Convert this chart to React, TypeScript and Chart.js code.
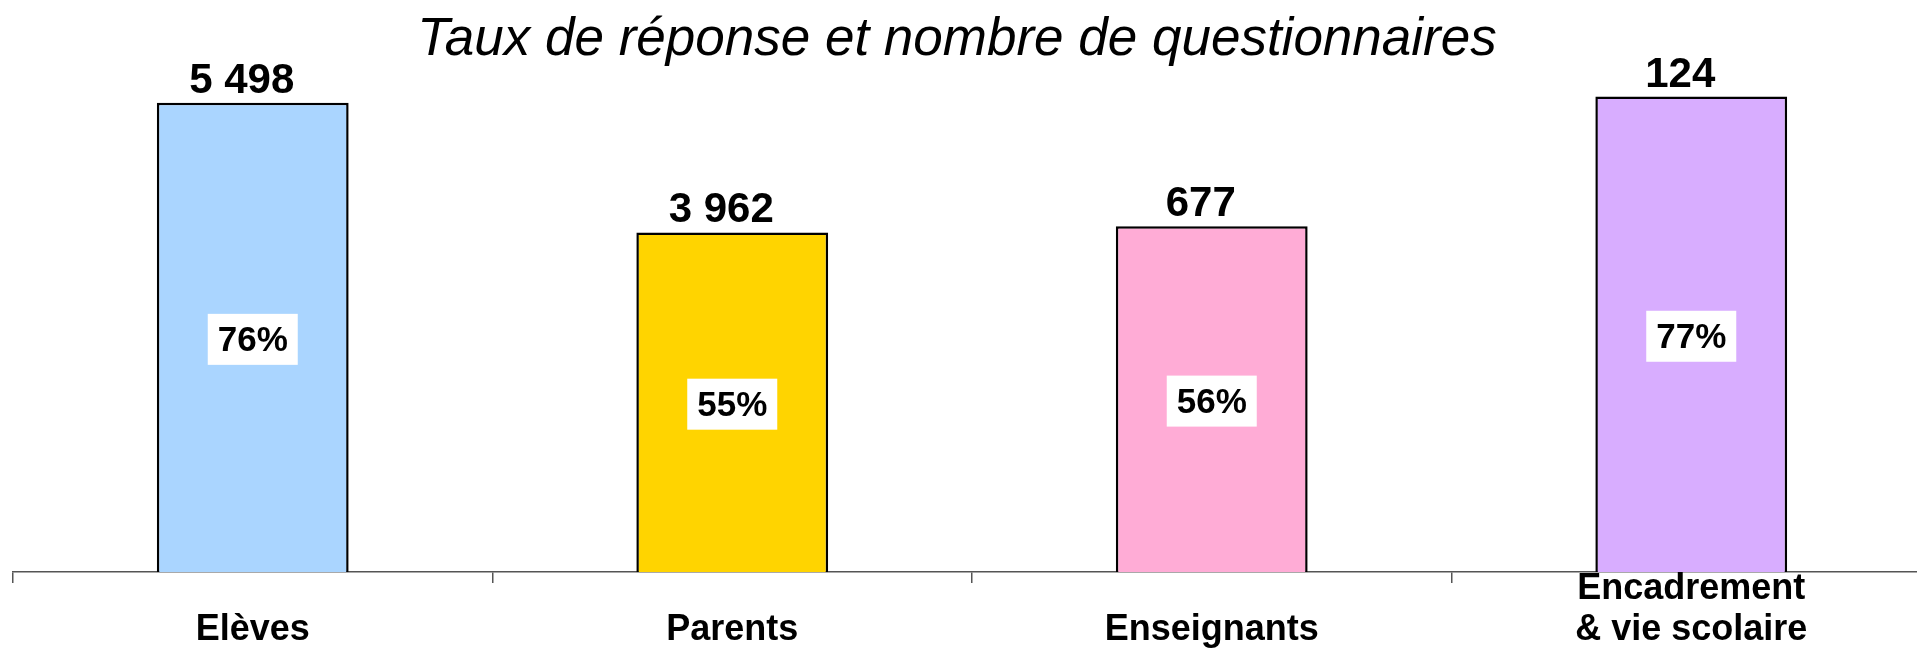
import React, { useEffect, useRef } from "react";
import { Chart, registerables } from "chart.js";

Chart.register(...registerables);

const categoryLines: string[][] = [
  ["", "Elèves"],
  ["", "Parents"],
  ["", "Enseignants"],
  ["Encadrement", "& vie scolaire"],
];
const responseRates = [76, 55, 56, 77];
const questionnaireCounts = [5498, 3962, 677, 124];
const barColors = ["#AAD5FF", "#FFD400", "#FFACD6", "#D8ADFF"];
const chartTitle = "Taux de réponse et nombre de questionnaires";

const FONT = '"Liberation Sans", Arial, Helvetica, sans-serif';

const fmtCount = (n: number) => String(n).replace(/\B(?=(\d{3})+(?!\d))/g, " ");

const overlayPlugin = {
  id: "overlay",
  afterDatasetsDraw(chart: any) {
    const ctx = chart.ctx;
    const meta = chart.getDatasetMeta(0);
    ctx.save();
    // title
    ctx.fillStyle = "#000";
    ctx.font = `italic 53px ${FONT}`;
    ctx.textAlign = "center";
    ctx.textBaseline = "alphabetic";
    ctx.fillText(chartTitle, 957, 55);

    meta.data.forEach((bar: any, i: number) => {
      const { x, y, base } = bar.getProps(["x", "y", "base"], true);
      // count above
      ctx.font = `bold 42px ${FONT}`;
      ctx.fillStyle = "#000";
      ctx.textAlign = "center";
      ctx.textBaseline = "alphabetic";
      ctx.fillText(fmtCount(questionnaireCounts[i]), x - 11, y - 10);
      // percentage box
      const cy = (y + base) / 2 + 2;
      const bw = 90;
      const bh = 51;
      ctx.fillStyle = "#fff";
      ctx.fillRect(x - bw / 2, cy - bh / 2, bw, bh);
      ctx.fillStyle = "#000";
      ctx.font = `bold 35px ${FONT}`;
      ctx.textBaseline = "middle";
      ctx.fillText(`${responseRates[i]}%`, x, cy + 2);
    });
    ctx.restore();
  },
};

export default function App() {
  const ref = useRef<HTMLCanvasElement | null>(null);
  useEffect(() => {
    if (!ref.current) return;
    const chart = new Chart(ref.current, {
      type: "bar",
      data: {
        labels: categoryLines,
        datasets: [
          {
            data: responseRates,
            backgroundColor: barColors,
            borderColor: "#000",
            borderWidth: 2.5,
            barPercentage: 0.4,
            categoryPercentage: 1,
          },
        ],
      },
      options: {
        responsive: false,
        animation: false,
        layout: { padding: { top: 16.25, left: 13, right: 0, bottom: 0 } },
        plugins: {
          legend: { display: false },
          title: { display: false },
          tooltip: { enabled: false },
        },
        scales: {
          x: {
            offset: true,
            grid: {
              offset: true,
              drawOnChartArea: false,
              drawTicks: true,
              tickLength: 11,
              color: "#555",
              lineWidth: 1.5,
            },
            border: { display: true, color: "#555", width: 1.5 },
            ticks: {
              color: "#000",
              padding: -14.5,
              maxRotation: 0,
              autoSkip: false,
              font: { family: FONT, size: 36, weight: "bold", lineHeight: 41 / 36 },
            },
            afterFit(scale: any) {
              scale.height = 77;
            },
          },
          y: {
            display: false,
            min: 0,
            max: 90,
          },
        },
      },
      plugins: [overlayPlugin],
    });
    return () => chart.destroy();
  }, []);

  return (
    <div
      style={{
        position: "fixed",
        left: 0,
        top: 0,
        width: 1917,
        height: 649,
        overflow: "hidden",
        background: "#fff",
      }}
    >
      <canvas ref={ref} width={1931} height={649} style={{ display: "block" }} />
    </div>
  );
}
